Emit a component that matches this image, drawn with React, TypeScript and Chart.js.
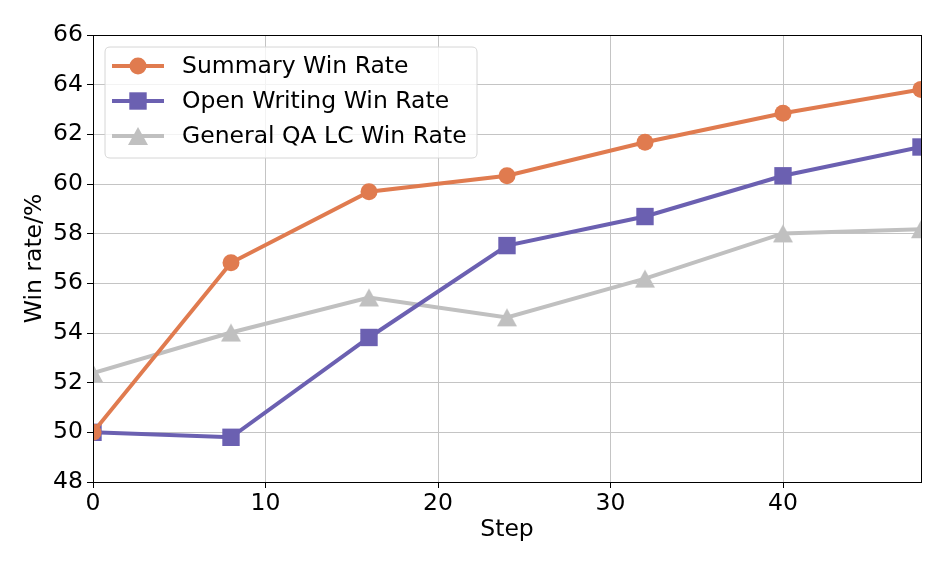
import React, { useEffect, useRef } from "react";
import { Chart, registerables } from "chart.js";

Chart.register(...registerables);

const steps = [0, 8, 16, 24, 32, 40, 48];
const summaryWinRate = [50.0, 56.83, 59.69, 60.33, 61.68, 62.85, 63.81];
const openWritingWinRate = [50.0, 49.8, 53.82, 57.52, 58.69, 60.33, 61.49];
const generalQAWinRate = [52.39, 54.02, 55.43, 54.63, 56.19, 58.01, 58.18];
const seriesLabels = ["Summary Win Rate", "Open Writing Win Rate", "General QA LC Win Rate"];
const xTicks = [0, 10, 20, 30, 40];
const yTicks = [48, 50, 52, 54, 56, 58, 60, 62, 64, 66];

const ORANGE = "#e07b4f";
const PURPLE = "#6b60b1";
const GRAY = "#c0c0c0";
const FONT = "DejaVu Sans";
const FS = 23.5;

function makeTriangle(color: string) {
  const c = document.createElement("canvas");
  const w = 20, h = 18;
  c.width = 22;
  c.height = 20;
  const ctx = c.getContext("2d")!;
  const cx = c.width / 2, cy = c.height / 2;
  ctx.fillStyle = color;
  ctx.beginPath();
  ctx.moveTo(cx, cy - h / 2);
  ctx.lineTo(cx + w / 2, cy + h / 2);
  ctx.lineTo(cx - w / 2, cy + h / 2);
  ctx.closePath();
  ctx.fill();
  return c;
}

export default function App() {
  const ref = useRef<HTMLCanvasElement | null>(null);

  useEffect(() => {
    document.body.style.margin = "0";
    const canvas = ref.current!;
    const tri = makeTriangle(GRAY);

    const framePlugin = {
      id: "frameAndLegend",
      afterDatasetsDraw(chart: any) {
        const { ctx, chartArea } = chart;
        ctx.save();
        ctx.strokeStyle = "#000";
        ctx.lineWidth = 1;
        const l = Math.round(chartArea.left) + 0.5;
        const t = Math.round(chartArea.top) + 0.5;
        const r = Math.round(chartArea.right) + 0.5;
        const b = Math.round(chartArea.bottom) + 0.5;
        ctx.strokeRect(l, t, r - l, b - t);

        // legend
        const bx = 105, by = 47, bw = 372, bh = 111, rad = 5;
        ctx.beginPath();
        ctx.moveTo(bx + rad, by);
        ctx.lineTo(bx + bw - rad, by);
        ctx.quadraticCurveTo(bx + bw, by, bx + bw, by + rad);
        ctx.lineTo(bx + bw, by + bh - rad);
        ctx.quadraticCurveTo(bx + bw, by + bh, bx + bw - rad, by + bh);
        ctx.lineTo(bx + rad, by + bh);
        ctx.quadraticCurveTo(bx, by + bh, bx, by + bh - rad);
        ctx.lineTo(bx, by + rad);
        ctx.quadraticCurveTo(bx, by, bx + rad, by);
        ctx.closePath();
        ctx.fillStyle = "rgba(255,255,255,0.8)";
        ctx.fill();
        ctx.strokeStyle = "#d6d6d6";
        ctx.lineWidth = 1;
        ctx.stroke();

        const rows = [66, 101, 136];
        chart.data.datasets.forEach((ds: any, i: number) => {
          const y = rows[i];
          ctx.strokeStyle = ds.borderColor;
          ctx.lineWidth = 4;
          ctx.beginPath();
          ctx.moveTo(112, y);
          ctx.lineTo(164, y);
          ctx.stroke();
          ctx.fillStyle = ds.borderColor;
          if (ds.pointStyle === "circle") {
            ctx.beginPath();
            ctx.arc(138, y, ds.pointRadius, 0, Math.PI * 2);
            ctx.fill();
          } else if (ds.pointStyle === "rect") {
            const s = ds.pointRadius * Math.SQRT1_2;
            ctx.fillRect(138 - s, y - s, 2 * s, 2 * s);
          } else {
            ctx.drawImage(ds.pointStyle, 138 - ds.pointStyle.width / 2, y - ds.pointStyle.height / 2);
          }
          ctx.fillStyle = "#000";
          ctx.font = `${FS}px "${FONT}"`;
          ctx.textBaseline = "middle";
          ctx.textAlign = "left";
          ctx.fillText(ds.label, 182, y + 1);
        });
        ctx.restore();
      },
    };

    const toPts = (arr: number[]) => steps.map((s, i) => ({ x: s, y: arr[i] }));

    const chart = new Chart(canvas, {
      type: "line",
      data: {
        datasets: [
          {
            label: seriesLabels[0],
            data: toPts(summaryWinRate),
            borderColor: ORANGE,
            backgroundColor: ORANGE,
            borderWidth: 4,
            pointStyle: "circle",
            pointRadius: 8.5,
            pointBorderWidth: 0,
            clip: 0,
          },
          {
            label: seriesLabels[1],
            data: toPts(openWritingWinRate),
            borderColor: PURPLE,
            backgroundColor: PURPLE,
            borderWidth: 4,
            pointStyle: "rect",
            pointRadius: 12.3,
            pointBorderWidth: 0,
            clip: 0,
          },
          {
            label: seriesLabels[2],
            data: toPts(generalQAWinRate),
            borderColor: GRAY,
            backgroundColor: GRAY,
            borderWidth: 4,
            pointStyle: tri as any,
            pointRadius: 10,
            pointBorderWidth: 0,
            clip: 0,
          },
        ],
      },
      options: {
        animation: false,
        responsive: false,
        maintainAspectRatio: false,
        layout: { padding: { left: 0, top: 35, right: 26, bottom: 0 } },
        plugins: { legend: { display: false }, tooltip: { enabled: false } },
        scales: {
          x: {
            type: "linear",
            min: 0,
            max: 48,
            afterFit: (s: any) => {
              s.height = 86;
            },
            afterBuildTicks: (s: any) => {
              s.ticks = xTicks.map((v) => ({ value: v }));
            },
            ticks: {
              color: "#000",
              font: { family: FONT, size: FS },
              padding: 2,
              maxRotation: 0,
              autoSkip: false,
            },
            grid: { color: "#c4c4c4", lineWidth: 1, tickColor: "#000", tickLength: 6 },
            border: { display: false },
            title: {
              display: true,
              text: "Step",
              color: "#000",
              font: { family: FONT, size: FS },
              padding: { top: 0, bottom: 24 },
            },
          },
          y: {
            type: "linear",
            min: 48,
            max: 66,
            afterFit: (s: any) => {
              s.width = 93;
            },
            afterBuildTicks: (s: any) => {
              s.ticks = yTicks.map((v) => ({ value: v }));
            },
            ticks: {
              color: "#000",
              font: { family: FONT, size: FS },
              padding: 4,
              autoSkip: false,
            },
            grid: { color: "#c4c4c4", lineWidth: 1, tickColor: "#000", tickLength: 6 },
            border: { display: false },
            title: {
              display: true,
              text: "Win rate/%",
              color: "#000",
              font: { family: FONT, size: FS },
              padding: { top: 21, bottom: 0 },
            },
          },
        },
      },
      plugins: [framePlugin],
    });

    return () => chart.destroy();
  }, []);

  return (
    <div style={{ width: 947, height: 568, background: "#fff" }}>
      <canvas ref={ref} width={947} height={568} style={{ display: "block" }} />
    </div>
  );
}
